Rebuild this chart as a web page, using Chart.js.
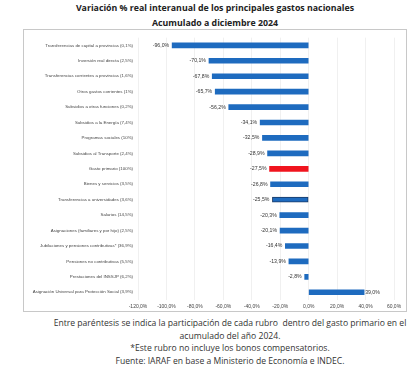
<!DOCTYPE html>
<html>
<head>
<meta charset="utf-8">
<script src="https://cdn.jsdelivr.net/npm/chart.js@4"></script>
<style>
  body { margin: 0; width: 420px; height: 374px; background: #fff; font-family: "Open Sans", "Liberation Sans", sans-serif; position: relative; }
  #title { position: absolute; left: 0; top: 1px; width: 430px; text-align: center; font-weight: bold; font-size: 8.8px; line-height: 15px; color: #222; }
  #box { position: absolute; left: 23px; top: 29px; width: 382px; height: 281px; border: 1px solid #c8c8c8; }
  #notes { position: absolute; left: 40px; top: 317px; width: 380px; text-align: center; font-size: 8.6px; line-height: 12.5px; color: #333; }
</style>
</head>
<body>
<div id="title">Variación % real interanual de los principales gastos nacionales<br>Acumulado a diciembre 2024</div>
<div id="box"><canvas id="chart" width="382" height="281"></canvas></div>
<div id="notes">Entre paréntesis se indica la participación de cada rubro&nbsp; dentro del gasto primario en el<br>acumulado del año 2024.<br>*Este rubro no incluye los bonos compensatorios.<br>Fuente: IARAF en base a Ministerio de Economía e INDEC.</div>
<script>
// rubros y variaciones
const categories = [
    'Transferencias de capital a provincias (0,1%)',
    'Inversión real directa (2,5%)',
    'Transferencias corrientes a provincias (1,6%)',
    'Otros gastos corrientes (1%)',
    'Subsidios a otras funciones (0,2%)',
    'Subsidios a la Energía (7,4%)',
    'Programas sociales (10%)',
    'Subsidios al Transporte (2,4%)',
    'Gasto primario (100%)',
    'Bienes y servicios (3,5%)',
    'Transferencias a universidades (3,6%)',
    'Salarios (14,5%)',
    'Asignaciones (familiares y por hijo) (2,5%)',
    'Jubilaciones y pensiones contributivas* (36,9%)',
    'Pensiones no contributivas (5,5%)',
    'Prestaciones del INSSJP (6,2%)',
    'Asignación Universal para Protección Social (3,9%)'
];
const variation = [-96.0, -70.1, -67.8, -65.7, -56.2, -34.1, -32.5, -28.9, -27.5, -26.8, -25.5, -20.3, -20.1, -16.4, -13.9, -2.8, 39.0];
const tickValues = [-120, -100, -80, -60, -40, -20, 0, 20, 40, 60];

const fmt = v => v.toFixed(1).replace('.', ',') + '%';

let barColors = categories.map(c => c.startsWith('Gasto primario') ? '#f0141e' : '#1e6bbf');
let borderColors = categories.map((c, i) => c.startsWith('Transferencias a universidades') ? '#1a3a66' : barColors[i]);

// etiquetas de valor al final de cada barra
const valueLabels = {
    id: 'valueLabels',
    afterDatasetsDraw(chart) {
        let ctx = chart.ctx;
        let meta = chart.getDatasetMeta(0);
        ctx.save();
        ctx.font = '5.2px "Liberation Sans", sans-serif';
        ctx.fillStyle = '#333';
        ctx.textBaseline = 'middle';
        meta.data.forEach((bar, i) => {
            let v = variation[i];
            if (v < 0) {
                ctx.textAlign = 'right';
                ctx.fillText(fmt(v), bar.x - 3, bar.y);
            } else {
                ctx.textAlign = 'left';
                ctx.fillText(fmt(v), bar.x + 1, bar.y);
            }
        });
        ctx.restore();
    }
};

new Chart(document.getElementById('chart').getContext('2d'), {
    type: 'bar',
    data: {
        labels: categories,
        datasets: [{
            data: variation,
            backgroundColor: barColors,
            borderColor: borderColors,
            borderWidth: categories.map(c => c.startsWith('Transferencias a universidades') ? 1 : 0),
            borderSkipped: false,
            barThickness: 5
        }]
    },
    options: {
        indexAxis: 'y',
        responsive: false,
        animation: false,
        layout: { padding: { top: 5, right: 12, left: 0, bottom: 0 } },
        plugins: {
            legend: { display: false },
            tooltip: { enabled: false }
        },
        scales: {
            x: {
                min: -120,
                max: 60,
                afterBuildTicks: scale => { scale.ticks = tickValues.map(v => ({ value: v })); },
                afterFit: scale => { scale.height = 11; },
                grid: { color: '#f0f0f0', drawTicks: false },
                border: { display: false },
                ticks: {
                    callback: v => fmt(v),
                    font: { size: 5, family: '"Liberation Sans", sans-serif' },
                    color: '#444',
                    padding: 4,
                    maxRotation: 0
                }
            },
            y: {
                afterFit: scale => { scale.width = 114; },
                grid: { display: false, drawTicks: false },
                border: { display: false },
                ticks: {
                    font: { size: 4.4, family: '"Liberation Sans", sans-serif' },
                    color: '#444',
                    padding: 5,
                    autoSkip: false
                }
            }
        }
    },
    plugins: [valueLabels]
});
</script>
</body>
</html>
